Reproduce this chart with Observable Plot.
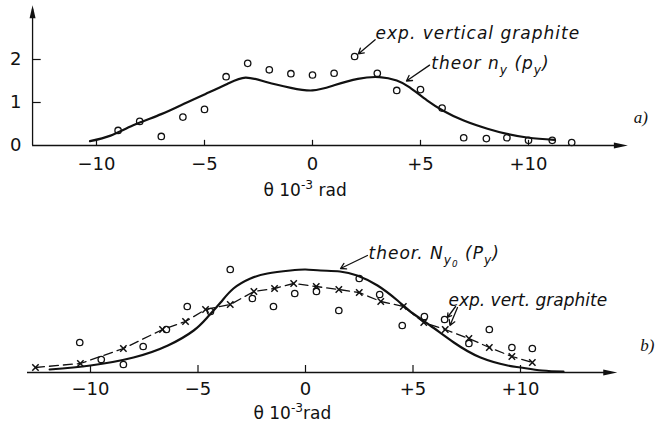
<!DOCTYPE html>
<html><head><meta charset="utf-8">
<script src="https://cdn.jsdelivr.net/npm/d3@7"></script>
<script src="https://cdn.jsdelivr.net/npm/@observablehq/plot@0.6"></script>
<style>
body{margin:0;background:#fff;}
#chart svg{display:block;}
</style></head><body><div id="chart"></div>
<script>
// ---------- panel a) data ----------
const topExpX = [-9, -8, -7, -6, -5, -4, -3, -2, -1, 0, 1, 1.95, 3, 3.9, 5, 6, 7, 8.05, 9, 10, 11.1, 12];
const topExpY = [0.35, 0.56, 0.21, 0.66, 0.84, 1.60, 1.91, 1.76, 1.67, 1.64, 1.68, 2.07, 1.68, 1.28, 1.30, 0.87, 0.18, 0.16, 0.18, 0.12, 0.12, 0.07];
const topTheorX = [-10.3, -9.35, -8.3, -7, -5.95, -4.95, -3.95, -3.1, -2.1, -1.0, 0, 1.0, 2.1, 3.1, 3.9, 4.5, 5.3, 6.05, 7, 8.1, 9, 10, 11.2];
const topTheorY = [0.10, 0.23, 0.47, 0.73, 0.97, 1.20, 1.43, 1.58, 1.47, 1.34, 1.28, 1.40, 1.55, 1.59, 1.51, 1.35, 1.05, 0.81, 0.58, 0.39, 0.27, 0.18, 0.13];
const topXTicks = [-10, -5, 0, 5, 10];
const topYTicks = [0, 1, 2];
const topAxisX = [-12.96, 14.6];
const topAxisY = [0, 3.26];
const topNotes = [
  {x: 2.92, y: 2.60, text: "exp. vertical graphite"},
  {x: 5.50, y: 1.90, text: "theor n_{y} (p_{y})"}
];
const topArrows = [
  {x1: 2.90, y1: 2.46, x2: 2.12, y2: 2.13},
  {x1: 5.42, y1: 1.87, x2: 4.35, y2: 1.50}
];
const topAxisLabel = {x: -2.27, y: -1.05, text: "θ 10^{-3} rad"};
const topPanel = {x: 15.2, y: 0.65, text: "a)"};

// ---------- panel b) data ----------
const botTheorX = [-11.9, -10, -8, -6.4, -5.2, -4.57, -3.95, -3.35, -2.56, -1.77, -0.7, 0, 0.7, 1.6, 2.4, 3.35, 4.28, 5.0, 5.8, 6.9, 8.14, 9.4, 10, 11, 12];
const botTheorY = [0.03, 0.07, 0.15, 0.27, 0.42, 0.55, 0.70, 0.84, 0.94, 0.99, 1.02, 1.03, 1.02, 1.01, 0.97, 0.87, 0.72, 0.59, 0.47, 0.30, 0.15, 0.07, 0.05, 0.02, 0.01];
const botCrossX = [-12.56, -10.47, -8.47, -6.65, -5.58, -4.65, -3.5, -2.4, -1.44, -0.55, 0.5, 1.55, 2.5, 3.5, 4.55, 5.5, 6.5, 7.6, 8.55, 9.6, 10.55];
const botCrossY = [0.05, 0.09, 0.24, 0.43, 0.51, 0.63, 0.68, 0.81, 0.84, 0.89, 0.86, 0.83, 0.80, 0.71, 0.66, 0.50, 0.43, 0.34, 0.25, 0.16, 0.10];
const botCircX = [-10.5, -9.5, -8.47, -7.55, -6.47, -5.5, -4.42, -3.5, -2.47, -1.49, -0.5, 0.51, 1.55, 2.5, 3.45, 4.5, 5.53, 6.47, 7.6, 8.55, 9.6, 10.55];
const botCircY = [0.30, 0.13, 0.08, 0.26, 0.43, 0.66, 0.61, 1.03, 0.74, 0.66, 0.79, 0.81, 0.62, 0.94, 0.78, 0.47, 0.56, 0.53, 0.29, 0.43, 0.25, 0.24];
const botXTicks = [-10, -5, 0, 5, 10];
const botAxisX = [-12.93, 14.5];
const botNotes = [
  {x: 2.93, y: 1.19, text: "theor. N_{y_{0}} (P_{y})"},
  {x: 6.65, y: 0.72, text: "exp. vert. graphite"}
];
const botArrows = [
  {x1: 2.88, y1: 1.17, x2: 1.63, y2: 1.04},
  {x1: 6.98, y1: 0.66, x2: 6.60, y2: 0.55},
  {x1: 7.07, y1: 0.65, x2: 6.72, y2: 0.47}
];
const botAxisLabel = {x: -2.42, y: -0.41, text: "θ 10^{-3}rad"};
const botPanel = {x: 15.9, y: 0.27, text: "b)"};

// ---------- helpers ----------
const FONT = "DejaVu Sans, sans-serif";
const ink = "#111";
const pairs = (xs, ys) => xs.map((x, i) => ({x, y: ys[i]}));
const fmtTick = d => d > 0 ? "+" + d : d < 0 ? "\u2212" + (-d) : "0";

function parseRich(str) {
  const segs = [];
  function rec(i, shift, scale, nested) {
    let buf = "";
    while (i < str.length) {
      const c = str[i];
      if ((c === "_" || c === "^") && str[i + 1] === "{") {
        if (buf) { segs.push({text: buf, shift, scale}); buf = ""; }
        const ns = c === "_" ? shift + 0.28 * scale : shift - 0.42 * scale;
        i = rec(i + 2, ns, scale * 0.72, true);
      } else if (c === "}" && nested) {
        if (buf) segs.push({text: buf, shift, scale});
        return i + 1;
      } else { buf += c; i++; }
    }
    if (buf) segs.push({text: buf, shift, scale});
    return i;
  }
  rec(0, 0, 1, false);
  return segs;
}
function richify(svg) {
  d3.select(svg).selectAll("text").each(function () {
    const t = this.textContent;
    if (!/[_^]\{/.test(t)) return;
    const base = parseFloat(getComputedStyle(this).fontSize) || 15;
    const segs = parseRich(t);
    this.textContent = "";
    let prev = 0;
    for (const s of segs) {
      const ts = document.createElementNS("http://www.w3.org/2000/svg", "tspan");
      ts.setAttribute("dy", ((s.shift - prev) * base).toFixed(2));
      ts.setAttribute("font-size", (base * s.scale).toFixed(2));
      ts.textContent = s.text;
      this.appendChild(ts);
      prev = s.shift;
    }
  });
}

function axisMarks(axX, xTicks, tickLen) {
  return [
    Plot.ruleY([0], {x1: axX[0], x2: axX[1] - 0.3, stroke: ink, strokeWidth: 1.3}),
    Plot.vector([{x: axX[1], y: 0}], {x: "x", y: "y", rotate: 90, length: 14, r: 3, shape: "spike", anchor: "end", fill: ink, stroke: "none"}),
    Plot.ruleX(xTicks, {x: d => d, y1: 0, y2: tickLen, stroke: ink, strokeWidth: 1.2})
  ];
}

// ---------- panel a) ----------
const topPlot = Plot.plot({
  width: 657, height: 200,
  marginLeft: 32, marginBottom: 55, marginTop: 0, marginRight: 0,
  x: {domain: [-10, 10], range: [96, 528], label: null},
  y: {domain: [0, 2], range: [145, 59], label: null},
  style: {fontFamily: FONT, color: ink, background: "#fff", overflow: "visible"},
  marks: [
    ...axisMarks(topAxisX, topXTicks, 0.12),
    Plot.ruleX([topAxisX[0]], {y1: topAxisY[0], y2: topAxisY[1] - 0.1, stroke: ink, strokeWidth: 1.3}),
    Plot.vector([{x: topAxisX[0], y: topAxisY[1]}], {x: "x", y: "y", rotate: 0, length: 13, r: 3, shape: "spike", anchor: "end", fill: ink, stroke: "none"}),
    Plot.ruleY([1, 2], {y: d => d, x1: topAxisX[0], x2: topAxisX[0] + 0.4, stroke: ink, strokeWidth: 1.2}),
    Plot.axisX({ticks: topXTicks, tickSize: 0, tickPadding: 12, tickFormat: fmtTick, fontSize: 18, label: null}),
    Plot.axisY({ticks: topYTicks, tickSize: 0, tickPadding: 11, tickFormat: d => String(d), fontSize: 18, label: null}),
    Plot.line(pairs(topTheorX, topTheorY), {x: "x", y: "y", curve: "natural", stroke: ink, strokeWidth: 2.2}),
    Plot.dot(pairs(topExpX, topExpY), {x: "x", y: "y", r: 3.2, stroke: ink, fill: "none", strokeWidth: 1.3}),
    Plot.arrow(topArrows, {x1: "x1", y1: "y1", x2: "x2", y2: "y2", headLength: 7, stroke: ink, strokeWidth: 1.3}),
    Plot.text(topNotes, {x: "x", y: "y", text: "text", textAnchor: "start", fontStyle: "italic", fontSize: 17, fill: ink}),
    Plot.text([topAxisLabel], {x: "x", y: "y", text: "text", textAnchor: "start", fontSize: 17, fill: ink}),
    Plot.text([topPanel], {x: "x", y: "y", text: "text", fontFamily: "Liberation Serif, serif", fontStyle: "italic", fontSize: 17, fill: ink})
  ]
});

// ---------- panel b) ----------
const botPlot = Plot.plot({
  width: 657, height: 225,
  marginLeft: 0, marginBottom: 53, marginTop: 0, marginRight: 0,
  x: {domain: [-10, 10], range: [90, 520], label: null},
  y: {domain: [0, 1], range: [172, 72], label: null, axis: null},
  style: {fontFamily: FONT, color: ink, background: "#fff", overflow: "visible"},
  marks: [
    ...axisMarks(botAxisX, botXTicks, 0.07),
    Plot.axisX({ticks: botXTicks, tickSize: 0, tickPadding: 10, tickFormat: fmtTick, fontSize: 18, label: null}),
    Plot.line(pairs(botCrossX, botCrossY), {x: "x", y: "y", stroke: ink, strokeWidth: 1.3, strokeDasharray: "9,5"}),
    Plot.line(pairs(botTheorX, botTheorY), {x: "x", y: "y", curve: "natural", stroke: ink, strokeWidth: 2.2}),
    Plot.dot(pairs(botCrossX, botCrossY), {x: "x", y: "y", symbol: "times", r: 3, stroke: ink, strokeWidth: 1.5}),
    Plot.dot(pairs(botCircX, botCircY), {x: "x", y: "y", r: 3.2, stroke: ink, fill: "none", strokeWidth: 1.3}),
    Plot.arrow(botArrows, {x1: "x1", y1: "y1", x2: "x2", y2: "y2", headLength: 7, stroke: ink, strokeWidth: 1.3}),
    Plot.text(botNotes, {x: "x", y: "y", text: "text", textAnchor: "start", fontStyle: "italic", fontSize: 17, fill: ink}),
    Plot.text([botAxisLabel], {x: "x", y: "y", text: "text", textAnchor: "start", fontSize: 17, fill: ink}),
    Plot.text([botPanel], {x: "x", y: "y", text: "text", fontFamily: "Liberation Serif, serif", fontStyle: "italic", fontSize: 17, fill: ink})
  ]
});

const root = document.getElementById("chart");
root.appendChild(topPlot);
root.appendChild(botPlot);
for (const svg of [topPlot, botPlot]) {
  d3.select(svg).selectAll("text")
    .filter(function () { return /vertical graphite|theor/.test(this.textContent); })
    .attr("letter-spacing", "1");
}
richify(topPlot);
richify(botPlot);
</script>
</body></html>
